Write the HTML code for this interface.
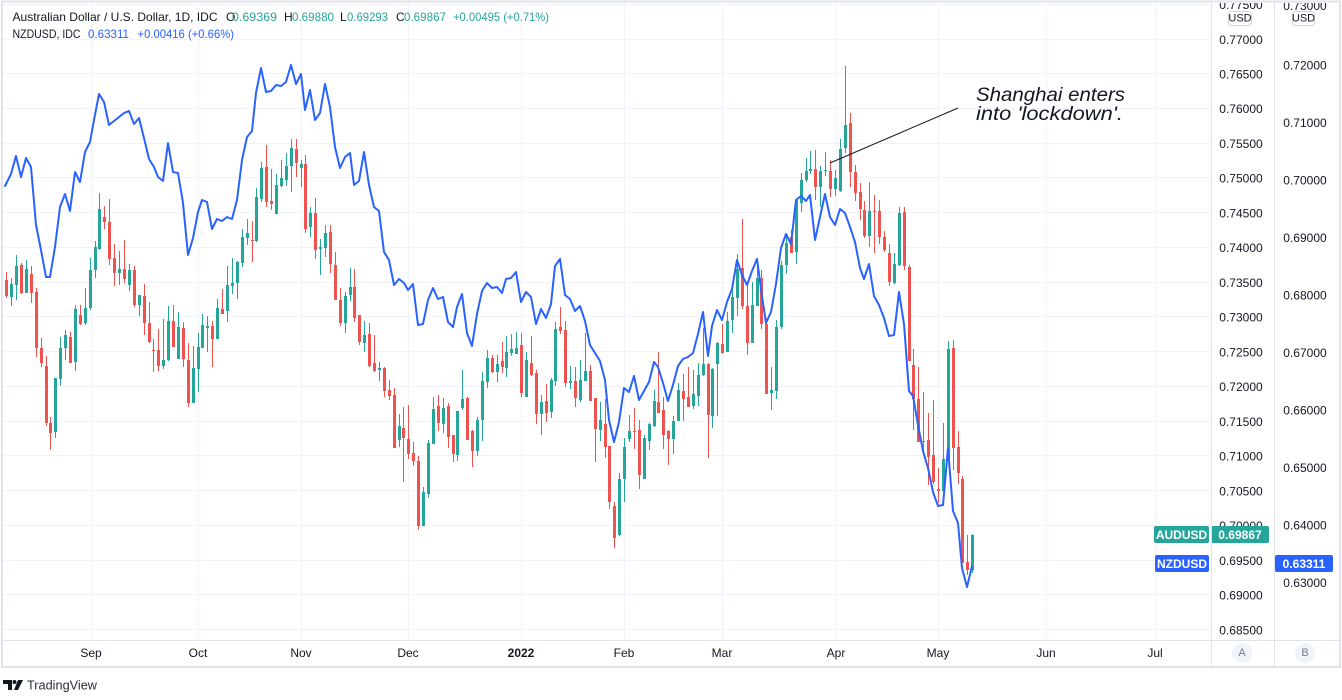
<!DOCTYPE html>
<html><head><meta charset="utf-8"><style>
html,body{margin:0;padding:0;background:#fff;}
svg{display:block;font-family:"Liberation Sans",Arial,sans-serif;}
</style></head><body>
<svg width="1342" height="700" viewBox="0 0 1342 700" xmlns="http://www.w3.org/2000/svg">
<defs><clipPath id="plot"><rect x="3" y="3" width="1208" height="637"/></clipPath>
<clipPath id="ax"><rect x="1212" y="3" width="128" height="637"/></clipPath></defs>
<rect width="1342" height="700" fill="#fff"/>
<!-- grid -->
<g stroke="#f0f3fa" stroke-width="1">
<path d="M3 4.5H1211M3 39.5H1211M3 73.5H1211M3 108.5H1211M3 143.5H1211M3 177.5H1211M3 212.5H1211M3 247.5H1211M3 282.5H1211M3 316.5H1211M3 351.5H1211M3 386.5H1211M3 421.5H1211M3 455.5H1211M3 490.5H1211M3 525.5H1211M3 560.5H1211M3 594.5H1211M3 629.5H1211"/>
<path d="M91.5 3V640M198.5 3V640M301.5 3V640M408.5 3V640M521.5 3V640M624.5 3V640M722.5 3V640M836.5 3V640M938.5 3V640M1046.5 3V640M1155.5 3V640"/>
</g>
<!-- header -->
<g font-size="12" dominant-baseline="central">
<text x="12.5" y="17" fill="#131722" textLength="205" lengthAdjust="spacingAndGlyphs">Australian Dollar / U.S. Dollar, 1D, IDC</text>
<text x="226" y="17" fill="#131722">O</text><text x="232" y="17" fill="#26a69a" textLength="45" lengthAdjust="spacingAndGlyphs">0.69369</text>
<text x="284" y="17" fill="#131722">H</text><text x="292" y="17" fill="#26a69a" textLength="42" lengthAdjust="spacingAndGlyphs">0.69880</text>
<text x="340" y="17" fill="#131722">L</text><text x="347" y="17" fill="#26a69a" textLength="41" lengthAdjust="spacingAndGlyphs">0.69293</text>
<text x="396" y="17" fill="#131722">C</text><text x="404" y="17" fill="#26a69a" textLength="42" lengthAdjust="spacingAndGlyphs">0.69867</text>
<text x="453" y="17" fill="#26a69a" textLength="96" lengthAdjust="spacingAndGlyphs">+0.00495 (+0.71%)</text>
<text x="12.5" y="34" fill="#131722" textLength="68" lengthAdjust="spacingAndGlyphs">NZDUSD, IDC</text>
<text x="88" y="34" fill="#2962ff" textLength="41" lengthAdjust="spacingAndGlyphs">0.63311</text>
<text x="137.5" y="34" fill="#2962ff" textLength="96.5" lengthAdjust="spacingAndGlyphs">+0.00416 (+0.66%)</text>
</g>
<g clip-path="url(#plot)">
<!-- green candles -->
<path stroke="#26a69a" stroke-width="1" fill="none" d="M11.5 278V306M16.5 255V300M26.5 260V293M55.5 378V438M60.5 337V386M65.5 330V360M75.5 305V371M85.5 288V325M90.5 258V310M95.5 241V278M99.5 193V250M119.5 251V285M129.5 264V291M139.5 295V316M163.5 319V369M168.5 306V361M178.5 312V359M193.5 346V403M198.5 333V392M202.5 314V348M207.5 316V352M217.5 299V339M227.5 266V322M232.5 258V294M237.5 261V299M242.5 229V267M247.5 219V245M256.5 188V242M261.5 162V202M276.5 174V214M281.5 160V187M286.5 153V186M291.5 139V192M301.5 160V187M310.5 207V237M320.5 239V275M325.5 225V257M345.5 292V333M350.5 268V301M364.5 321V352M379.5 362V381M399.5 414V447M423.5 487V526M428.5 440V498M433.5 397V444M443.5 398V433M457.5 411V461M462.5 370V410M477.5 417V456M482.5 372V441M487.5 350V388M497.5 355V382M506.5 336V377M511.5 334V356M516.5 332V354M526.5 352V397M541.5 395V435M551.5 378V418M555.5 322V386M570.5 366V389M580.5 360V402M585.5 333V381M600.5 402V441M619.5 473V536M624.5 438V502M629.5 415V442M644.5 435V479M649.5 423V450M654.5 390V427M673.5 416V454M678.5 383V421M693.5 370V409M698.5 363V406M703.5 328V376M712.5 368V428M717.5 342V416M727.5 312V351M732.5 288V333M737.5 254V316M752.5 282V343M757.5 258V299M771.5 367V410M776.5 320V399M781.5 261V329M786.5 234V274M796.5 199V264M801.5 173V212M806.5 158V182M810.5 151V174M820.5 166V207M825.5 152V176M835.5 170V196M840.5 139V192M845.5 66V153M869.5 182V247M894.5 253V284M899.5 207V266M923.5 392V454M943.5 423V491M948.5 341V459M972.5 534V573"/>
<path fill="#26a69a" d="M10 284h3V297h-3zM15 266h3V285h-3zM25 269h3V293h-3zM54 378h3V432h-3zM59 348h3V379h-3zM64 335h3V348h-3zM74 309h3V362h-3zM84 308h3V323h-3zM89 270h3V308h-3zM94 247h3V270h-3zM98 209h3V249h-3zM118 269h3V273h-3zM128 270h3V285h-3zM138 295h3V305h-3zM162 360h3V366h-3zM167 321h3V360h-3zM177 327h3V359h-3zM192 368h3V403h-3zM197 347h3V369h-3zM201 325h3V348h-3zM206 326h3V328h-3zM216 308h3V339h-3zM226 285h3V311h-3zM231 283h3V286h-3zM236 262h3V283h-3zM241 237h3V263h-3zM246 233h3V238h-3zM255 197h3V241h-3zM260 168h3V199h-3zM275 185h3V214h-3zM280 178h3V186h-3zM285 166h3V180h-3zM290 148h3V166h-3zM300 164h3V168h-3zM309 213h3V227h-3zM319 247h3V249h-3zM324 233h3V248h-3zM344 296h3V323h-3zM349 287h3V295h-3zM363 335h3V343h-3zM378 368h3V370h-3zM398 426h3V440h-3zM422 492h3V526h-3zM427 443h3V494h-3zM432 409h3V444h-3zM442 408h3V424h-3zM456 411h3V455h-3zM461 399h3V408h-3zM476 420h3V451h-3zM481 381h3V420h-3zM486 358h3V382h-3zM496 364h3V372h-3zM505 352h3V368h-3zM510 349h3V353h-3zM515 348h3V354h-3zM525 360h3V397h-3zM540 402h3V414h-3zM550 380h3V412h-3zM554 329h3V381h-3zM569 381h3V383h-3zM579 380h3V400h-3zM584 371h3V381h-3zM599 420h3V430h-3zM618 479h3V535h-3zM623 447h3V479h-3zM628 431h3V439h-3zM643 438h3V479h-3zM648 424h3V441h-3zM653 401h3V426h-3zM672 421h3V439h-3zM677 390h3V421h-3zM692 394h3V406h-3zM697 375h3V396h-3zM702 364h3V375h-3zM711 369h3V416h-3zM716 343h3V364h-3zM726 321h3V352h-3zM731 297h3V320h-3zM736 269h3V298h-3zM751 305h3V343h-3zM756 278h3V306h-3zM770 390h3V393h-3zM775 327h3V391h-3zM780 265h3V327h-3zM785 243h3V265h-3zM795 200h3V252h-3zM800 180h3V203h-3zM805 171h3V180h-3zM809 169h3V171h-3zM819 171h3V187h-3zM824 170h3V171h-3zM834 178h3V189h-3zM839 149h3V191h-3zM844 125h3V148h-3zM868 211h3V236h-3zM893 264h3V283h-3zM898 213h3V265h-3zM922 441h3V442h-3zM942 459h3V491h-3zM947 349h3V459h-3zM971 535h3V570h-3z"/>
<!-- red candles -->
<path stroke="#ef5350" stroke-width="1" fill="none" d="M6.5 272V298M21.5 263V294M31.5 266V303M36.5 288V357M41.5 338V367M46.5 356V426M50.5 417V450M70.5 332V363M80.5 305V325M104.5 206V229M109.5 199V265M114.5 244V286M124.5 240V283M134.5 266V307M144.5 284V335M149.5 302V343M153.5 339V372M158.5 329V371M173.5 305V347M183.5 322V367M188.5 343V407M212.5 321V367M222.5 289V314M252.5 221V262M266.5 145V207M271.5 169V210M296.5 139V177M305.5 155V233M315.5 198V259M330.5 225V273M335.5 252V300M340.5 288V326M354.5 269V322M359.5 315V345M369.5 323V367M374.5 335V372M384.5 367V397M389.5 380V400M394.5 388V448M403.5 407V482M408.5 405V459M413.5 442V466M418.5 456V530M438.5 395V431M448.5 403V448M453.5 435V462M467.5 397V440M472.5 430V467M492.5 355V373M502.5 342V373M521.5 333V397M531.5 336V376M536.5 370V424M546.5 384V422M560.5 307V334M565.5 321V387M575.5 367V407M590.5 365V401M595.5 398V462M605.5 399V458M609.5 446V509M614.5 502V548M634.5 408V449M639.5 420V489M658.5 352V413M663.5 397V449M668.5 430V465M683.5 374V421M688.5 367V407M708.5 363V458M722.5 324V354M742.5 219V309M747.5 283V355M761.5 270V329M766.5 318V394M791.5 230V253M815.5 150V200M830.5 160V197M850.5 113V187M855.5 165V201M860.5 183V220M864.5 201V238M874.5 195V253M879.5 200V244M884.5 231V252M889.5 244V286M904.5 207V270M909.5 265V361M913.5 349V430M918.5 367V442M928.5 413V485M933.5 400V484M938.5 468V503M953.5 340V470M958.5 431V484M962.5 476V563M967.5 535V575"/>
<path fill="#ef5350" d="M5 280h3V296h-3zM20 265h3V293h-3zM30 274h3V293h-3zM35 292h3V348h-3zM40 348h3V363h-3zM45 366h3V423h-3zM49 423h3V433h-3zM69 337h3V363h-3zM79 315h3V324h-3zM103 217h3V222h-3zM108 222h3V259h-3zM113 258h3V273h-3zM123 269h3V279h-3zM133 270h3V305h-3zM143 296h3V323h-3zM148 323h3V342h-3zM152 350h3V351h-3zM157 350h3V366h-3zM172 321h3V347h-3zM182 328h3V359h-3zM187 360h3V403h-3zM211 326h3V339h-3zM221 309h3V314h-3zM251 240h3V241h-3zM265 167h3V202h-3zM270 201h3V204h-3zM295 149h3V163h-3zM304 164h3V229h-3zM314 213h3V250h-3zM329 232h3V264h-3zM334 265h3V300h-3zM339 300h3V323h-3zM353 287h3V318h-3zM358 315h3V342h-3zM368 334h3V366h-3zM373 363h3V371h-3zM383 368h3V391h-3zM388 390h3V396h-3zM393 395h3V448h-3zM402 428h3V438h-3zM407 439h3V454h-3zM412 453h3V461h-3zM417 461h3V526h-3zM437 406h3V423h-3zM447 406h3V437h-3zM452 435h3V454h-3zM466 398h3V440h-3zM471 431h3V451h-3zM491 358h3V372h-3zM501 361h3V367h-3zM520 345h3V393h-3zM530 363h3V375h-3zM535 373h3V414h-3zM545 401h3V413h-3zM559 327h3V331h-3zM564 330h3V383h-3zM574 381h3V398h-3zM589 371h3V401h-3zM594 398h3V429h-3zM604 424h3V447h-3zM608 446h3V502h-3zM613 506h3V538h-3zM633 431h3V432h-3zM638 430h3V475h-3zM657 402h3V413h-3zM662 410h3V435h-3zM667 431h3V439h-3zM682 391h3V399h-3zM687 397h3V407h-3zM707 364h3V415h-3zM721 344h3V353h-3zM741 268h3V306h-3zM746 306h3V343h-3zM760 278h3V324h-3zM765 324h3V394h-3zM790 237h3V253h-3zM814 169h3V187h-3zM829 171h3V189h-3zM849 123h3V172h-3zM854 172h3V193h-3zM859 192h3V209h-3zM863 210h3V236h-3zM873 211h3V212h-3zM878 211h3V237h-3zM883 237h3V250h-3zM888 253h3V282h-3zM903 212h3V266h-3zM908 267h3V361h-3zM912 365h3V399h-3zM917 399h3V442h-3zM927 440h3V457h-3zM932 455h3V482h-3zM937 489h3V491h-3zM952 348h3V448h-3zM957 447h3V473h-3zM961 479h3V563h-3zM966 562h3V570h-3z"/>
<!-- NZD line -->
<polyline fill="none" stroke="#2962ff" stroke-width="2" stroke-linejoin="round" stroke-linecap="round" points="5,186 11,174 16,156 21,177 26,158 31,167 36,225 41,250 46,277 50,277 55,247 60,207 65,194 70,211 75,172 80,182 85,152 90,142 94,120 99,94 104,102 109,125 114,121 119,117 124,113 129,111 134,124 139,118 144,138 149,159 154,167 158,177 163,181 168,143 173,172 178,173 183,203 188,255 193,238 198,212 202,200 207,202 212,229 217,219 222,221 227,217 232,219 237,200 242,160 247,137 252,131 256,93 261,68 266,92 271,91 276,85 281,86 286,82 291,65 296,84 301,74 305,110 310,90 315,120 320,113 325,84 330,107 335,147 340,168 345,157 350,153 354,185 359,181 364,152 369,185 374,207 379,211 384,252 389,260 394,285 399,279 404,283 408,290 413,284 418,325 423,324 428,300 433,288 438,299 443,297 448,322 453,327 457,307 462,294 467,333 472,346 477,314 482,291 487,283 492,288 497,287 502,293 506,279 511,278 516,272 521,302 526,292 531,297 536,324 541,309 546,318 551,304 555,266 560,259 565,295 570,299 575,311 580,306 585,321 590,345 595,353 600,361 605,380 609,420 614,442 619,422 624,388 629,392 634,376 639,400 644,391 649,382 654,362 658,367 663,383 668,401 673,385 678,366 683,359 688,357 693,353 698,334 703,312 708,356 712,326 717,310 722,320 727,302 732,289 737,260 742,275 747,285 752,271 757,259 762,296 766,323 771,312 776,284 781,248 786,234 791,244 796,200 801,196 806,201 810,195 815,240 820,217 825,194 830,217 835,225 840,209 845,213 850,227 855,242 860,268 864,279 869,264 874,296 879,305 884,318 889,336 894,335 899,292 904,324 909,391 913,396 918,425 923,451 928,468 933,492 938,506 943,505 948,448 953,511 958,523 962,568 967,587 972,566"/>
<!-- annotation -->
<line x1="830" y1="163" x2="958" y2="108" stroke="#131722" stroke-width="1"/>
<text x="976" y="101" font-size="19" font-style="italic" fill="#131722" textLength="149" lengthAdjust="spacingAndGlyphs">Shanghai enters</text>
<text x="976" y="120" font-size="19" font-style="italic" fill="#131722" textLength="147" lengthAdjust="spacingAndGlyphs">into 'lockdown'.</text>
<!-- series name tags -->
<rect x="1154" y="526" width="55" height="17" rx="2" fill="#26a69a"/>
<text x="1181.5" y="535" font-size="12" font-weight="bold" fill="#fff" text-anchor="middle" dominant-baseline="central">AUDUSD</text>
<rect x="1155" y="555" width="54" height="17" rx="2" fill="#2962ff"/>
<text x="1182" y="564" font-size="12" font-weight="bold" fill="#fff" text-anchor="middle" dominant-baseline="central">NZDUSD</text>
</g>
<!-- axis labels -->
<g clip-path="url(#ax)" font-size="12" fill="#131722" text-anchor="middle" dominant-baseline="central">
<text x="1241" y="5">0.77500</text>
<text x="1241" y="40">0.77000</text><text x="1241" y="74.5">0.76500</text><text x="1241" y="109">0.76000</text><text x="1241" y="144">0.75500</text><text x="1241" y="178.5">0.75000</text><text x="1241" y="213.5">0.74500</text><text x="1241" y="248">0.74000</text><text x="1241" y="283">0.73500</text><text x="1241" y="317.5">0.73000</text><text x="1241" y="352.5">0.72500</text><text x="1241" y="387">0.72000</text><text x="1241" y="422">0.71500</text><text x="1241" y="456.5">0.71000</text><text x="1241" y="491.5">0.70500</text><text x="1241" y="526">0.70000</text><text x="1241" y="561">0.69500</text><text x="1241" y="595.5">0.69000</text><text x="1241" y="630.5">0.68500</text>
<text x="1305" y="6">0.73000</text>
<text x="1305" y="65.5">0.72000</text><text x="1305" y="123">0.71000</text><text x="1305" y="180.5">0.70000</text><text x="1305" y="238">0.69000</text><text x="1305" y="295.5">0.68000</text><text x="1305" y="353">0.67000</text><text x="1305" y="410.5">0.66000</text><text x="1305" y="468">0.65000</text><text x="1305" y="525.5">0.64000</text><text x="1305" y="583">0.63000</text>
</g>
<!-- USD badges -->
<rect x="1228.5" y="11.5" width="23" height="14" rx="3" fill="#fff" stroke="#d1d4dc"/>
<text x="1240" y="18.5" font-size="11" fill="#131722" text-anchor="middle" dominant-baseline="central">USD</text>
<rect x="1292.5" y="11.5" width="22" height="14" rx="3" fill="#fff" stroke="#d1d4dc"/>
<text x="1303.5" y="18.5" font-size="11" fill="#131722" text-anchor="middle" dominant-baseline="central">USD</text>
<!-- value boxes -->
<rect x="1211" y="526" width="58" height="17" rx="2" fill="#26a69a"/>
<text x="1240" y="535" font-size="12" font-weight="bold" fill="#fff" text-anchor="middle" dominant-baseline="central">0.69867</text>
<rect x="1275" y="555" width="58" height="17" rx="2" fill="#2962ff"/>
<text x="1304" y="564" font-size="12" font-weight="bold" fill="#fff" text-anchor="middle" dominant-baseline="central">0.63311</text>
<!-- borders -->
<g stroke="#e0e3eb" stroke-width="1" fill="none">
<path d="M1211.5 2V667M1274.5 2V667M3 640.5H1340"/>
</g>
<rect x="2" y="1.5" width="1338" height="665.5" fill="none" stroke="#e0e3eb" stroke-width="2"/>
<!-- time axis -->
<g font-size="12" fill="#131722" text-anchor="middle" dominant-baseline="central">
<text x="91" y="653">Sep</text><text x="198" y="653">Oct</text><text x="301" y="653">Nov</text><text x="408" y="653">Dec</text><text x="521" y="653" font-weight="bold">2022</text><text x="624" y="653">Feb</text><text x="722" y="653">Mar</text><text x="836" y="653">Apr</text><text x="938" y="653">May</text><text x="1046" y="653">Jun</text><text x="1155" y="653">Jul</text>
</g>
<circle cx="1242" cy="653" r="10" fill="#f0f3fa"/>
<circle cx="1305" cy="653" r="10" fill="#f0f3fa"/>
<text x="1242" y="653" font-size="11" fill="#787b86" text-anchor="middle" dominant-baseline="central">A</text>
<text x="1305" y="653" font-size="11" fill="#787b86" text-anchor="middle" dominant-baseline="central">B</text>
<!-- TradingView logo -->
<g fill="#131722">
<path d="M3 680h9v10h-4v-6h-5z"/>
<circle cx="14.5" cy="682" r="2"/>
<path d="M18 680h5l-5 10h-4z"/>
</g>
<text x="27" y="685" font-size="13" fill="#2a2e39" dominant-baseline="central" textLength="70" lengthAdjust="spacingAndGlyphs">TradingView</text>
</svg>
</body></html>
